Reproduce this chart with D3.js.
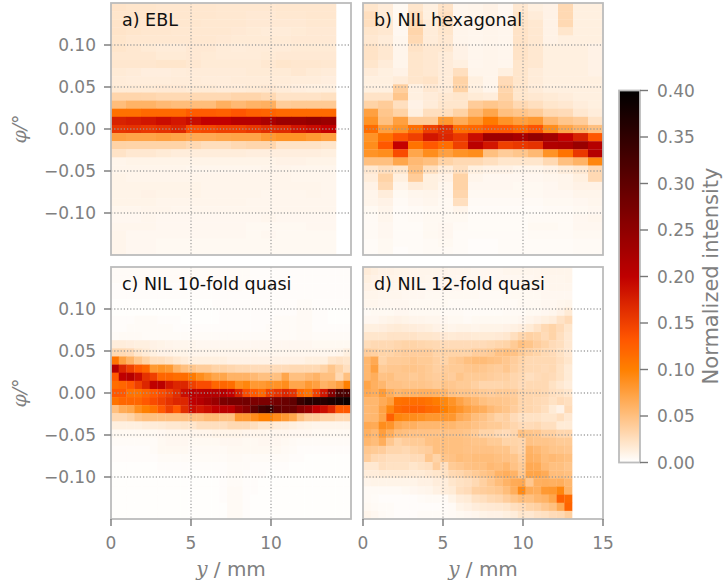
<!DOCTYPE html>
<html>
<head>
<meta charset="utf-8">
<script src="https://cdn.jsdelivr.net/npm/d3@7"></script>
<style>
  html, body { margin: 0; padding: 0; background: #fff; }
  svg { display: block; }
</style>
</head>
<body>
<svg width="723" height="586"></svg>
<script>
// intensity grids, in thousandths, top row first
const gridA = [
  [21,20,20,19,19,19,19,18,18,18,18,19,19,19,19],
  [20,20,20,19,19,19,19,18,18,17,17,18,18,19,19],
  [21,20,19,19,19,19,18,18,18,17,17,17,17,18,18],
  [21,20,19,19,18,18,18,18,17,16,15,15,16,17,17],
  [20,18,18,18,18,18,18,17,16,16,16,16,17,17,17],
  [20,18,16,15,15,17,17,15,14,15,15,15,16,16,16],
  [18,18,18,16,16,17,16,15,15,15,16,17,17,17,17],
  [19,19,19,20,20,18,16,16,16,16,18,20,19,19,18],
  [16,15,13,13,14,15,15,15,15,16,16,16,18,16,15],
  [15,14,14,14,15,15,14,14,15,15,15,15,14,14,13],
  [16,16,16,17,17,16,16,15,15,16,17,15,13,12,12],
  [33,33,32,30,30,30,30,30,33,33,30,22,22,22,24],
  [52,60,60,55,52,52,52,62,55,60,62,40,42,42,42],
  [112,112,118,118,118,128,128,125,132,125,122,118,118,118,118],
  [175,178,182,190,180,192,198,198,210,210,222,238,238,245,238],
  [158,160,155,160,170,140,145,150,150,155,165,168,180,190,195],
  [75,72,72,75,72,68,68,70,72,72,80,85,85,80,75],
  [35,34,34,34,34,30,26,26,30,32,32,22,22,22,20],
  [22,18,18,16,14,14,14,14,14,13,13,13,13,13,12],
  [8,9,9,9,9,9,9,9,9,9,9,10,10,9,9],
  [8,8,8,8,8,7,7,7,7,7,8,8,7,7,7],
  [9,8,8,8,8,8,8,8,8,8,8,8,7,7,7],
  [9,9,9,9,9,9,8,8,8,8,8,8,8,8,7],
  [9,9,10,9,9,9,8,8,8,8,7,7,7,8,7],
  [9,9,9,8,8,8,8,8,8,7,7,7,7,7,7],
  [7,7,8,8,7,7,7,7,7,7,7,7,7,7,7],
  [6,6,7,6,6,6,6,6,6,6,7,6,6,6,6],
  [7,7,7,6,6,6,6,6,6,5,5,5,5,6,6],
  [8,6,6,6,6,6,6,6,6,5,6,5,5,5,5],
  [8,6,6,5,5,5,5,5,5,5,5,5,5,5,5],
  [8,6,6,5,5,5,5,5,5,5,5,5,5,5,5]
];

const gridB = [
  [20,15,5,20,12,22,7,8,10,6,18,12,10,30,12,12],
  [25,15,5,25,12,25,7,8,10,6,20,15,10,30,12,12],
  [25,18,6,30,15,25,8,8,10,7,22,18,10,30,12,12],
  [20,18,6,33,15,20,8,7,8,7,22,18,10,20,12,12],
  [18,15,7,30,15,18,8,7,8,7,22,18,10,12,12,12],
  [22,18,8,22,18,18,10,7,8,7,22,18,12,12,12,10],
  [22,18,8,20,18,15,10,7,8,7,22,18,12,12,12,10],
  [20,15,8,20,18,15,12,7,8,7,20,18,12,12,12,10],
  [15,12,10,20,18,15,25,8,8,12,20,15,12,12,12,10],
  [12,12,15,20,22,15,35,12,8,28,20,15,12,12,12,12],
  [12,12,38,12,18,15,35,12,8,32,20,15,12,12,12,12],
  [22,22,45,12,15,18,20,16,14,35,20,18,16,14,12,12],
  [35,40,25,10,15,20,20,40,45,40,30,25,20,18,14,12],
  [75,45,35,12,25,25,35,55,70,50,45,40,30,28,18,14],
  [85,50,75,40,40,80,65,80,105,85,75,80,55,45,40,22],
  [115,75,85,115,150,165,115,120,130,130,120,135,90,70,60,50],
  [85,110,135,150,180,170,155,190,235,235,225,245,230,195,175,130],
  [90,130,195,110,130,115,150,205,180,150,155,160,215,220,240,210],
  [85,90,140,70,90,75,85,90,50,40,45,55,85,110,155,210],
  [50,50,70,55,50,35,30,30,25,20,20,20,30,50,60,95],
  [18,25,20,50,25,15,25,12,10,10,8,8,10,14,18,30],
  [14,35,12,40,12,10,35,8,6,6,6,6,7,8,12,30],
  [10,30,8,15,12,7,35,6,6,6,5,5,6,8,10,10],
  [8,14,5,7,8,6,32,5,5,5,5,5,6,6,8,8],
  [8,10,4,6,7,5,25,4,4,4,4,4,5,5,6,7],
  [5,8,3,4,5,5,8,3,3,3,3,3,4,4,5,6],
  [4,7,3,4,5,5,5,3,3,3,3,4,4,4,6,7],
  [4,6,3,3,5,6,4,3,3,3,3,5,5,4,6,6],
  [4,6,3,3,5,6,3,3,3,3,3,4,4,4,5,5],
  [3,5,3,3,4,5,3,2,2,3,3,3,3,3,4,4],
  [3,5,2,3,4,4,3,2,2,3,3,3,3,3,4,4]
];

const gridC = [
  [3,3,3,3,3,3,3,3,3,3,3,3,3,3,3,3,3,3,2,2,2,2,2,2,2,2,2,2,2,2,2],
  [3,3,3,3,3,3,3,3,3,3,3,3,3,3,3,3,3,3,2,2,2,2,2,2,2,2,2,2,2,2,2],
  [2,2,2,2,2,2,2,2,2,2,2,2,2,2,2,3,3,2,2,2,2,2,2,2,2,2,2,2,2,2,2],
  [2,2,2,2,2,2,2,2,2,2,2,2,2,2,2,2,2,2,2,2,2,2,2,2,2,2,2,2,2,2,2],
  [1,1,1,1,1,1,1,1,1,1,1,1,1,2,2,2,2,2,2,2,2,2,2,2,3,3,2,2,2,2,2],
  [1,1,1,1,1,1,1,1,1,1,1,1,1,1,2,2,2,2,2,2,2,2,2,2,4,4,2,2,1,1,1],
  [2,2,2,3,3,3,2,2,2,1,1,1,1,1,2,2,2,2,2,2,2,3,3,3,4,4,2,2,1,1,1],
  [2,2,3,3,3,3,3,3,2,2,2,2,2,2,2,2,2,2,2,2,3,3,3,3,4,4,2,2,2,2,2],
  [3,4,4,4,3,3,3,3,3,3,3,3,3,3,3,3,3,3,3,3,3,3,3,3,4,4,3,3,3,3,3],
  [14,14,13,12,12,10,9,8,7,7,7,6,6,6,6,6,6,6,6,6,6,6,6,6,6,6,5,5,5,5,5],
  [30,30,28,20,16,12,10,10,9,9,8,8,8,8,8,8,8,8,8,7,7,7,7,7,7,7,7,7,7,8,12],
  [110,75,60,45,35,25,25,22,18,15,12,12,12,12,12,10,10,10,10,10,10,10,10,10,10,12,12,12,20,22,20],
  [210,170,150,130,120,80,85,80,60,50,45,40,40,35,35,32,30,30,28,28,28,28,28,30,30,30,30,35,45,35,25],
  [130,200,210,190,160,150,120,120,115,115,105,90,80,70,70,60,60,60,55,50,50,50,70,50,50,55,60,50,50,30,50],
  [115,120,130,150,170,200,205,180,170,170,150,140,140,120,120,115,90,95,80,80,85,85,90,70,70,80,75,60,65,75,100],
  [130,130,110,110,120,130,140,150,165,190,205,205,210,210,210,195,175,140,130,120,150,160,170,160,120,110,150,180,260,320,320],
  [110,120,120,120,130,140,150,160,170,170,200,210,225,240,270,275,275,280,270,270,270,280,290,300,340,360,360,360,370,380,390],
  [50,65,70,90,100,110,130,150,130,165,190,180,190,200,205,205,240,260,300,330,340,300,290,290,260,240,200,190,170,130,130],
  [30,30,35,45,50,50,50,50,50,50,50,50,55,55,50,50,80,80,90,100,100,90,80,70,50,40,40,35,35,30,30],
  [12,12,12,12,14,15,16,18,18,20,20,25,25,25,25,30,30,30,25,20,20,15,14,12,10,9,8,8,8,8,8],
  [5,5,5,5,5,5,6,7,7,7,8,8,8,9,9,9,9,8,8,8,7,7,7,6,6,6,5,5,5,5,5],
  [3,3,3,3,3,3,5,6,6,6,5,5,5,5,6,6,6,5,5,6,6,6,5,4,3,3,3,3,3,3,3],
  [2,2,2,2,2,3,5,5,5,5,4,4,4,4,4,5,5,5,5,5,5,5,4,3,2,2,2,2,2,2,2],
  [2,2,2,2,2,2,3,3,3,3,3,3,3,3,3,4,4,3,3,3,3,3,3,2,2,1,1,1,1,1,1],
  [1,1,1,1,1,1,2,2,2,2,2,2,2,2,2,3,3,3,2,2,2,2,2,1,1,1,1,1,1,1,1],
  [1,1,1,1,1,1,1,1,1,1,1,1,1,1,2,3,3,2,2,2,1,1,1,1,1,1,1,1,1,1,1],
  [1,1,1,1,1,1,1,1,1,1,1,1,1,1,2,3,3,2,2,1,1,1,1,1,1,1,1,1,1,1,1],
  [1,1,1,1,1,1,1,1,1,1,1,1,1,1,2,4,4,2,2,1,1,1,1,1,1,1,1,1,1,1,1],
  [1,1,1,1,1,1,1,1,1,1,1,1,1,1,2,4,4,2,1,1,1,1,1,1,1,1,1,1,1,1,1],
  [1,1,1,1,1,1,1,1,1,1,1,1,1,1,1,4,4,2,1,1,1,1,1,1,1,1,1,1,1,1,1],
  [1,1,1,1,1,1,1,1,1,1,1,1,1,1,1,4,4,2,1,1,1,1,1,1,1,1,1,1,1,1,1]
];

const gridD = [
  [15,12,10,10,9,9,8,8,8,8,8,7,7,7,6,6,6,6,7,7,7,7,7,8,8,8,8],
  [12,10,9,9,8,8,8,8,7,7,7,7,6,6,6,6,5,6,6,6,6,6,7,7,7,7,8],
  [10,9,8,8,7,7,7,6,6,6,6,6,6,5,5,5,5,5,5,5,5,6,6,6,7,7,7],
  [8,8,7,7,7,6,6,6,5,5,5,5,5,5,5,4,4,4,5,5,5,5,5,6,6,6,6],
  [7,7,6,6,6,6,5,5,5,5,5,4,4,4,4,4,4,4,4,4,5,5,5,6,6,7,8],
  [4,5,5,5,6,6,5,5,5,5,4,4,4,3,3,3,3,3,4,4,4,5,5,6,7,10,16],
  [6,6,8,9,10,9,8,8,7,7,6,5,5,4,5,5,5,5,5,5,6,8,10,12,14,22,28],
  [12,12,13,15,16,15,14,13,12,10,9,8,9,9,8,9,9,9,10,11,13,16,22,30,34,28,20],
  [20,20,20,22,22,22,22,20,20,19,17,16,17,17,16,16,16,17,19,25,32,36,34,28,34,25,18],
  [27,30,30,30,32,34,34,32,31,30,28,28,28,28,28,28,30,32,34,41,50,46,39,34,28,25,18],
  [39,37,34,34,37,39,39,39,39,34,34,34,34,34,39,39,41,48,50,48,41,37,34,30,28,23,18],
  [57,68,34,40,40,41,44,41,41,37,34,41,44,50,53,53,50,48,44,39,34,30,30,30,30,25,20],
  [57,75,41,44,44,46,46,44,41,37,39,41,41,44,46,44,41,39,44,37,32,30,30,28,30,23,16],
  [57,64,48,50,44,44,41,44,41,39,41,39,46,41,41,41,39,37,37,32,30,25,28,30,28,23,16],
  [71,62,57,48,48,46,46,46,44,41,46,44,41,41,37,32,32,32,34,32,28,30,30,30,23,18,14],
  [68,64,78,64,57,60,60,62,62,60,57,48,46,46,44,41,39,41,41,39,32,32,32,30,25,23,20],
  [57,57,66,75,112,114,114,114,110,104,94,85,73,64,57,50,46,46,44,41,32,32,30,28,23,28,25],
  [55,57,73,96,118,122,125,125,118,114,100,92,84,75,68,64,55,50,46,39,32,32,30,25,16,10,28],
  [55,57,71,125,95,92,90,86,82,82,82,82,68,62,52,48,41,34,37,28,23,23,23,20,20,25,18],
  [68,66,90,84,68,62,62,57,57,57,57,57,52,52,48,44,41,41,37,32,28,28,30,25,25,16,16],
  [62,55,76,64,52,50,48,48,48,48,48,48,48,46,41,34,34,30,28,32,50,46,44,37,37,32,32],
  [57,52,64,44,34,39,41,41,48,50,50,50,50,48,46,46,41,41,34,34,32,48,46,46,44,41,41],
  [44,41,39,32,32,30,34,37,39,50,50,50,50,48,48,48,48,46,46,37,32,60,55,50,46,46,44],
  [39,30,28,25,25,25,28,28,44,34,46,48,52,50,52,52,52,50,48,46,37,62,60,52,55,52,50],
  [18,18,25,23,23,23,20,23,25,39,25,41,44,48,50,50,55,52,57,48,41,68,66,55,50,50,46],
  [14,14,16,16,16,16,16,16,18,20,23,30,32,37,41,46,50,60,64,60,44,71,71,66,52,52,50],
  [8,9,9,9,9,9,9,11,11,14,14,20,23,25,30,37,44,52,60,66,68,44,62,64,62,64,57],
  [4,4,4,4,4,5,6,7,8,11,14,16,25,28,37,39,41,44,52,64,92,66,64,80,82,95,60],
  [4,3,2,2,2,2,2,3,4,4,4,9,14,16,23,25,30,32,39,46,52,50,57,60,70,125,118],
  [5,4,3,3,2,2,2,2,2,2,3,4,9,11,14,16,17,18,20,25,28,34,37,44,50,68,122],
  [8,6,4,3,2,2,2,3,3,3,3,4,5,6,7,9,10,10,12,14,20,18,22,24,28,30,38]
];

const panelTitles = ["a) EBL", "b) NIL hexagonal", "c) NIL 10-fold quasi", "d) NIL 12-fold quasi"];
const gridTicks = [5, 10];
const xTicksC = [0, 5, 10];
const xTicksD = [0, 5, 10, 15];
const yTicks = [0.10, 0.05, 0, -0.05, -0.10];
const cbarTicks = [0, 0.05, 0.10, 0.15, 0.20, 0.25, 0.30, 0.35, 0.40];

const svg = d3.select("svg");
const font = "'DejaVu Sans', sans-serif";

// gist_heat reversed, 0 to 0.40
const color = d3.scaleLinear()
  .domain([0, 0.1, 0.1333, 0.2, 0.4])
  .range(["#ffffff", "#ff8000", "#ff5500", "#bf0000", "#000000"]);

const panelW = 240, panelH = 252;
const panels = [
  { grid: gridA, left: 111, top: 3, colMm: 15 / 16, title: panelTitles[0], yAxis: true },
  { grid: gridB, left: 363, top: 3, colMm: 15 / 16, title: panelTitles[1], yAxis: false },
  { grid: gridC, left: 111, top: 267, colMm: 15 / 31, title: panelTitles[2], yAxis: true, xTicks: xTicksC },
  { grid: gridD, left: 363, top: 267, colMm: 15 / 31, title: panelTitles[3], yAxis: false, xTicks: xTicksD }
];

const defs = svg.append("defs");
defs.append("filter").attr("id", "soft")
  .attr("x", "-2%").attr("y", "-2%").attr("width", "104%").attr("height", "104%")
  .append("feGaussianBlur").attr("stdDeviation", 0.5);

panels.forEach((p, i) => {
  const x = d3.scaleLinear().domain([0, 15]).range([0, panelW]);
  const y = d3.scaleLinear().domain([0.15, -0.15]).range([0, panelH]);
  const rowH = 0.3 / 31;
  const g = svg.append("g").attr("transform", `translate(${p.left},${p.top})`);

  defs.append("clipPath").attr("id", "clip" + i)
    .append("rect").attr("width", panelW).attr("height", panelH);

  const cells = p.grid.flatMap((row, r) => row.map((v, c) => ({ v, r, c })));
  g.append("g").attr("clip-path", `url(#clip${i})`)
    .append("g").attr("filter", "url(#soft)")
    .selectAll("rect")
    .data(cells)
    .enter()
    .append("rect")
    .attr("x", d => x(d.c * p.colMm))
    .attr("y", d => y(0.15 - d.r * rowH))
    .attr("width", d => x((d.c + 1) * p.colMm) - x(d.c * p.colMm) + 0.3)
    .attr("height", d => y(0.15 - (d.r + 1) * rowH) - y(0.15 - d.r * rowH) + 0.3)
    .attr("fill", d => color(d.v / 1000));

  // dotted grid on top of the image
  g.selectAll(".gx").data(gridTicks).enter().append("line")
    .attr("x1", d => x(d)).attr("x2", d => x(d)).attr("y1", 0).attr("y2", panelH)
    .attr("stroke", "#999").attr("stroke-width", 1.3).attr("stroke-dasharray", "1.2 2").attr("opacity", 0.9);
  g.selectAll(".gy").data(yTicks).enter().append("line")
    .attr("y1", d => y(d)).attr("y2", d => y(d)).attr("x1", 0).attr("x2", panelW)
    .attr("stroke", "#999").attr("stroke-width", 1.3).attr("stroke-dasharray", "1.2 2").attr("opacity", 0.9);

  g.append("rect").attr("width", panelW).attr("height", panelH)
    .attr("fill", "none").attr("stroke", "#bcbcbc").attr("stroke-width", 1.8);

  g.append("text").attr("x", 11).attr("y", 23)
    .style("font", `17.5px ${font}`).style("fill", "#111").text(p.title);

  if (p.yAxis) {
    g.selectAll(".yt").data(yTicks).enter().append("line")
      .attr("x1", -7).attr("x2", 0).attr("y1", d => y(d)).attr("y2", d => y(d))
      .attr("stroke", "#777").attr("stroke-width", 1.4);
    g.selectAll(".yl").data(yTicks).enter().append("text")
      .attr("x", -15).attr("y", d => y(d) + 6).attr("text-anchor", "end")
      .style("font", `17px ${font}`).style("fill", "#808080")
      .text(d => d3.format(".2f")(d).replace("-", "\u2212"));
    g.append("text")
      .attr("transform", `translate(-85,${panelH / 2}) rotate(-90)`)
      .attr("text-anchor", "middle")
      .style("font", `italic 19px 'DejaVu Serif', serif`).style("fill", "#808080")
      .text("\u03c6/\u00b0");
  }
  if (p.xTicks) {
    g.selectAll(".xt").data(p.xTicks).enter().append("line")
      .attr("y1", panelH).attr("y2", panelH + 7).attr("x1", d => x(d)).attr("x2", d => x(d))
      .attr("stroke", "#777").attr("stroke-width", 1.4);
    g.selectAll(".xl").data(p.xTicks).enter().append("text")
      .attr("x", d => x(d)).attr("y", panelH + 30).attr("text-anchor", "middle")
      .style("font", `17px ${font}`).style("fill", "#808080")
      .text(d => d);
    const lab = g.append("text").attr("x", panelW / 2).attr("y", panelH + 57).attr("text-anchor", "middle")
      .style("font", `20px ${font}`).style("fill", "#808080");
    lab.append("tspan").style("font", "italic 20px 'DejaVu Serif', serif").text("y");
    lab.append("tspan").text(" / mm");
  }
});

// colorbar
const cbarX = 619, cbarW = 21;
const cbarY = d3.scaleLinear().domain([0, 0.4]).range([462.5, 90.5]);
const grad = defs.append("linearGradient").attr("id", "cbar")
  .attr("x1", 0).attr("x2", 0).attr("y1", 1).attr("y2", 0);
grad.selectAll("stop").data(d3.range(0, 1.001, 0.01)).enter().append("stop")
  .attr("offset", d => d).attr("stop-color", d => color(d * 0.4));
svg.append("rect").attr("x", cbarX).attr("y", cbarY(0.4)).attr("width", cbarW)
  .attr("height", cbarY(0) - cbarY(0.4)).attr("fill", "url(#cbar)")
  .attr("stroke", "#bcbcbc").attr("stroke-width", 1.8);
svg.selectAll(".ct").data(cbarTicks).enter().append("line")
  .attr("x1", cbarX + cbarW).attr("x2", cbarX + cbarW + 8)
  .attr("y1", d => cbarY(d)).attr("y2", d => cbarY(d))
  .attr("stroke", "#777").attr("stroke-width", 1.4);
svg.selectAll(".cl").data(cbarTicks).enter().append("text")
  .attr("x", 657).attr("y", d => cbarY(d) + 6)
  .style("font", `17px ${font}`).style("fill", "#808080")
  .text(d => d3.format(".2f")(d));
svg.append("text")
  .attr("transform", "translate(717.5,276) rotate(-90)")
  .attr("text-anchor", "middle")
  .style("font", `21px ${font}`).style("fill", "#808080")
  .text("Normalized intensity");
</script>
</body>
</html>
